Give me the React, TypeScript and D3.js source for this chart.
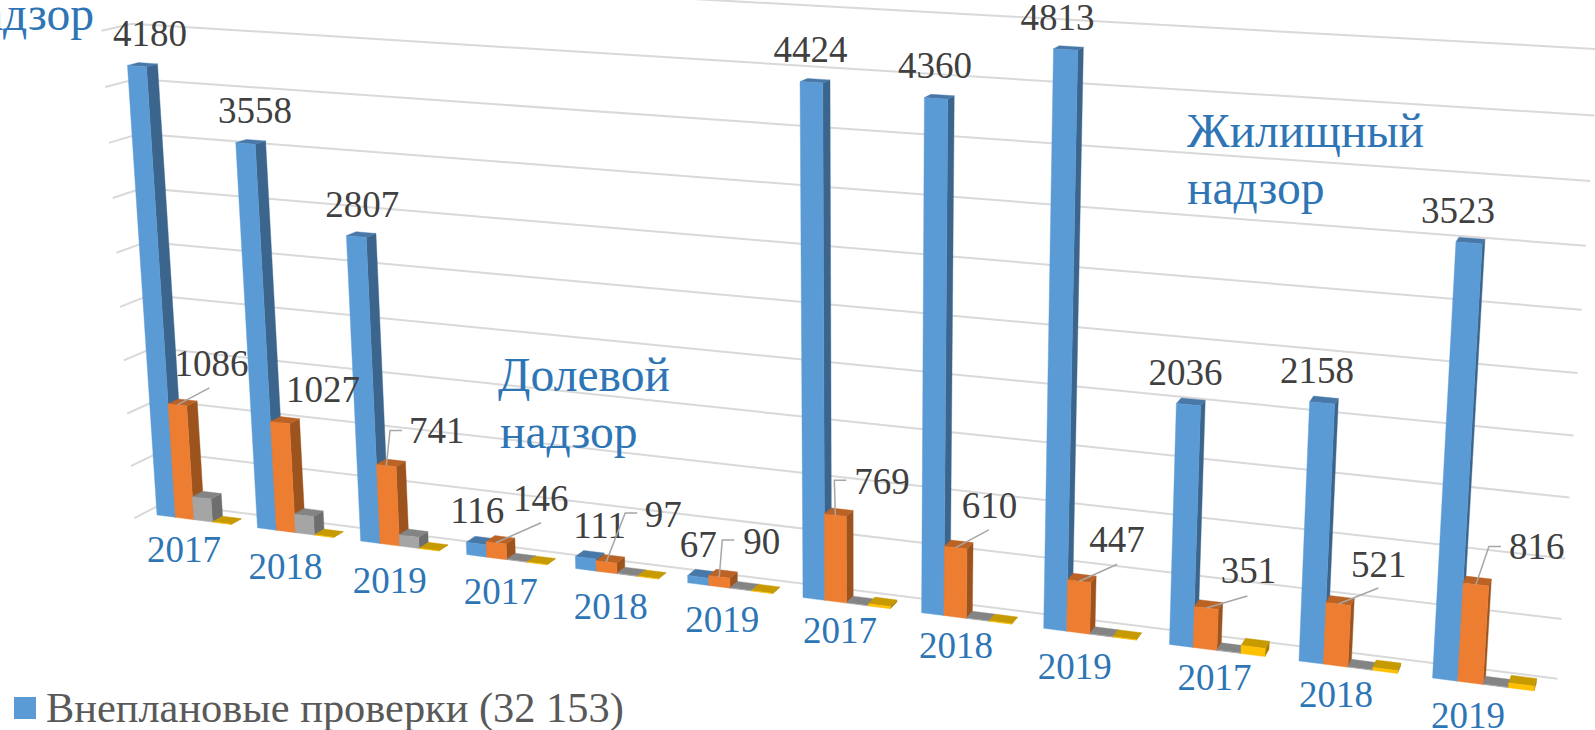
import { useEffect, useRef } from 'react';
import * as d3 from 'd3';

const WIDTH = 1595;
const HEIGHT = 730;

const years = ['2017', '2018', '2019', '2017', '2018', '2019', '2017', '2018', '2019', '2017', '2018', '2019'];
const blueValues = [4180, 3558, 2807, 116, 111, 67, 4424, 4360, 4813, 2036, 2158, 3523];
const orangeValues = [1086, 1027, 741, 146, 97, 90, 769, 610, 447, 351, 521, 816];
const grayValues = [222, 177, 105, 4, 4, 4, 4, 4, 4, 4, 4, 4];
const yellowValues = [3, 3, 3, 3, 3, 3, 20, 4, 4, 70, 25, 40];
const gridTicks = d3.range(0, 5001, 500);

// [front, side, top] shades of each series
const seriesColors = [
  ['#5b9bd5', '#3b658c', '#4878a8'],
  ['#ed7d31', '#9c531e', '#bb6225'],
  ['#a5a5a5', '#6e6e6e', '#848484'],
  ['#ffc000', '#a98000', '#c79a00'],
];

// hand placed label offsets, measured from the bar top
const blueLabelDx = [13, 9.5, 6, 1, 14, 0, -1, -1, -8, -3, -5, -11];
const orangeLabelOffset = [
  [-3, -29], [6, -21], [22.7, -22.5], [17, -32], [38.5, -35], [24, -23],
  [19, -21], [6, -30], [10, -29.5], [14.4, -25], [12.6, -27], [33, -25.5],
];
const leaderOffsets = [
  [[32, -17]], [], [[3.7, -35], [15.7, -35]], [[45, -20]], [[19, -49], [31, -49]], [[3, -37], [15, -37]],
  [[-1, -35], [11, -35]], [[33, -17.6]], [[38, -17]], [[41, -12]], [[40, -16]], [[13, -38], [25, -38]],
];
const yearLabelOffset = [
  [-10, 47], [-9, 51], [-8, 52], [-3, 49], [-2, 50], [-2.5, 49],
  [0, 45], [-2.5, 45], [-6, 51], [8, 46], [0, 46], [-1.5, 50],
];

// world axes: group position, value, depth
const groupScale = d3.scalePoint<number>().domain(d3.range(12)).range([0, 11]);
const seriesScale = d3.scaleBand<number>().domain([0, 1, 2, 3]).range([0, 0.74]);
const heightScale = d3.scaleLinear().domain([0, 5000]).range([0, -0.048]);

// perspective camera fitted to the picture
function project(gx: number, value: number, depth: number): [number, number] {
  const h = heightScale(value);
  const w = 1 - 0.01317 * gx + h + 0.0062 * depth;
  const x = 157 + 97.09 * gx + 863.6 * h + 11.47 * depth;
  const y = 515 + 5.89 * gx + 11270 * h - 2.294 * depth;
  return [x / w, y / w];
}

const WALL_LEFT = -0.135;
const WALL_RIGHT = 11.88;
const WALL_FRONT = -0.87;
const WALL_BACK = 1.9;

function App() {
  const svgRef = useRef<SVGSVGElement>(null);

  useEffect(() => {
    const svg = d3.select(svgRef.current);
    svg.selectAll('*').remove();

    const line = d3.line();
    const poly = (pts: [number, number][]) => line(pts) + 'Z';

    // Gridlines on side wall and back wall
    const grid = svg.append('g').attr('fill', 'none').attr('stroke', '#d9d9d9').attr('stroke-width', 2);
    gridTicks.forEach(t => {
      grid.append('path').attr('d', line([
        project(WALL_LEFT, t, WALL_FRONT),
        project(WALL_LEFT, t, WALL_BACK),
        project(WALL_RIGHT, t, WALL_BACK),
      ]));
    });

    // Bars, left to right so nearer ones paint over
    const allSeries = [blueValues, orangeValues, grayValues, yellowValues];
    const bars = svg.append('g');
    years.forEach((_, i) => {
      allSeries.forEach((values, s) => {
        const x0 = groupScale(i)! + seriesScale(s)!;
        const x1 = x0 + seriesScale.bandwidth();
        const v = values[i];
        const [front, side, top] = seriesColors[s];
        const faces: [string, [number, number][]][] = [
          [side, [project(x1, 0, 0), project(x1, 0, 1), project(x1, v, 1), project(x1, v, 0)]],
          [top, [project(x0, v, 0), project(x1, v, 0), project(x1, v, 1), project(x0, v, 1)]],
          [front, [project(x0, 0, 0), project(x1, 0, 0), project(x1, v, 0), project(x0, v, 0)]],
        ];
        faces.forEach(([color, pts]) => {
          bars.append('path')
            .attr('d', poly(pts))
            .attr('fill', color)
            .attr('stroke', color)
            .attr('stroke-width', 0.4);
        });
      });
    });

    const font = '"Liberation Serif", "Times New Roman", serif';

    // Leader lines and data labels
    const labels = svg.append('g').attr('font-family', font).attr('font-size', 37).attr('fill', '#404040');
    years.forEach((_, i) => {
      const barMid = (s: number) => groupScale(i)! + seriesScale(s)! + seriesScale.bandwidth() / 2;

      const blueTop = project(barMid(0), blueValues[i], 0);
      labels.append('text')
        .attr('x', blueTop[0] + blueLabelDx[i])
        .attr('y', blueTop[1] - 20)
        .attr('text-anchor', 'middle')
        .text(blueValues[i]);

      const orangeTop = project(barMid(1), orangeValues[i], 0);
      const leader = leaderOffsets[i];
      if (leader.length) {
        const pts = [orangeTop, ...leader.map(([dx, dy]) => [orangeTop[0] + dx, orangeTop[1] + dy] as [number, number])];
        svg.append('path')
          .attr('d', line(pts))
          .attr('fill', 'none')
          .attr('stroke', '#a6a6a6')
          .attr('stroke-width', 1.5);
      }
      labels.append('text')
        .attr('x', orangeTop[0] + orangeLabelOffset[i][0])
        .attr('y', orangeTop[1] + orangeLabelOffset[i][1])
        .text(orangeValues[i]);
    });

    // Year labels under each group
    const yearLabels = svg.append('g').attr('font-family', font).attr('font-size', 37).attr('fill', '#2e75b6');
    years.forEach((year, i) => {
      const base = project(groupScale(i)!, 0, 0);
      yearLabels.append('text')
        .attr('x', base[0] + yearLabelOffset[i][0])
        .attr('y', base[1] + yearLabelOffset[i][1])
        .text(year);
    });

    // Annotations
    const notes = svg.append('g').attr('font-family', font).attr('font-size', 47.6).attr('fill', '#2e75b6');
    notes.append('text').attr('x', 94).attr('y', 30).attr('text-anchor', 'end').text('надзор');
    notes.append('text').attr('x', 498).attr('y', 391).text('Долевой');
    notes.append('text').attr('x', 500).attr('y', 448).text('надзор');
    notes.append('text').attr('x', 1187).attr('y', 147).text('Жилищный');
    notes.append('text').attr('x', 1187).attr('y', 204).text('надзор');

    // Legend
    svg.append('rect')
      .attr('x', 14).attr('y', 697)
      .attr('width', 22).attr('height', 22)
      .attr('fill', seriesColors[0][0]);
    svg.append('text')
      .attr('x', 46).attr('y', 722)
      .attr('font-family', font)
      .attr('font-size', 42.4)
      .attr('fill', '#595959')
      .text('Внеплановые проверки (32 153)');
  }, []);

  return (
    <svg
      ref={svgRef}
      width={WIDTH}
      height={HEIGHT}
      style={{ position: 'absolute', left: 0, top: 0, display: 'block' }}
    />
  );
}

export default App;
